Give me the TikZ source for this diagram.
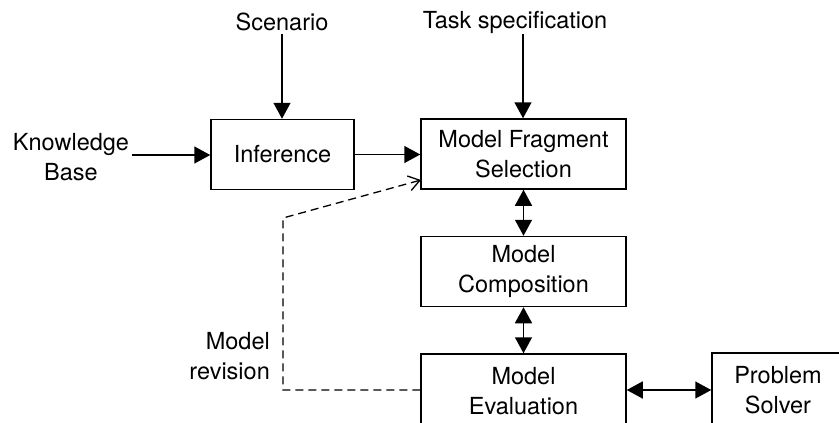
\documentclass[tikz,border=0pt]{standalone}
\usepackage{fontspec}
\setmainfont{TeX Gyre Heros}
\usetikzlibrary{arrows.meta}
\begin{document}
\begin{tikzpicture}[x=1pt,y=-1pt,
  box/.style={draw,line width=1.5pt,minimum width=205pt,minimum height=70pt,align=center,inner sep=0pt},
  lbl/.style={align=center,inner sep=0pt},
  conn/.style={line width=1.5pt,-{Triangle[length=16pt,width=17pt]}},
  bicon/.style={line width=1.5pt,{Triangle[length=16pt,width=17pt]}-{Triangle[length=16pt,width=17pt]}},
  rev/.style={line width=1.3pt,dash pattern=on 8pt off 5pt,-{Straight Barb[length=11pt,width=15pt,line width=1.3pt]}},
  every node/.style={font=\fontsize{23.5}{30}\selectfont}]
\useasboundingbox (0,0) rectangle (839,423);
\clip (0,0) rectangle (839,423);
\node[box,minimum width=143pt] (inf) at (282.5,154.5) {Inference};
\node[box] (mfs) at (523.5,154) {Model Fragment\\Selection};
\node[box] (mc) at (523.5,271.5) {Model\\Composition};
\node[box,minimum height=74pt] (me) at (523.5,391) {Model\\Evaluation};
\node[box,minimum width=150pt,minimum height=74pt] (ps) at (787,390) {\hspace*{-18pt}Problem\\\hspace*{-18pt}Solver};
\node[lbl] (kb) at (71,157) {Knowledge\\Base};
\node[lbl] (sc) at (282,22) {Scenario};
\node[lbl] (ts) at (515,22) {Task specification};
\node[lbl,anchor=east,align=right] (mr) at (270,356) {Model\\revision};
\coordinate (kbe) at (132,155);
\coordinate (sct) at (282,34);
\coordinate (tst) at (523,34);
\coordinate (d1) at (283,390);
\coordinate (d2) at (283,218);
\coordinate (d3) at (421,180);
\draw[conn] (kbe) -- (kbe -| inf.west);
\draw[conn] (sct) -- (sct |- inf.north);
\draw[conn] (tst) -- (tst |- mfs.north);
\draw[conn] (inf.east) -- (inf.east -| mfs.west);
\draw[bicon] (mfs.south) -- (mc.north);
\draw[bicon] (mc.south) -- (me.north);
\draw[bicon] (me.east |- 0,390) -- (ps.west |- 0,390);
\draw[rev] (me.west |- d1) -- (d1) -- (d2) -- (d3);
\end{tikzpicture}
\end{document}
